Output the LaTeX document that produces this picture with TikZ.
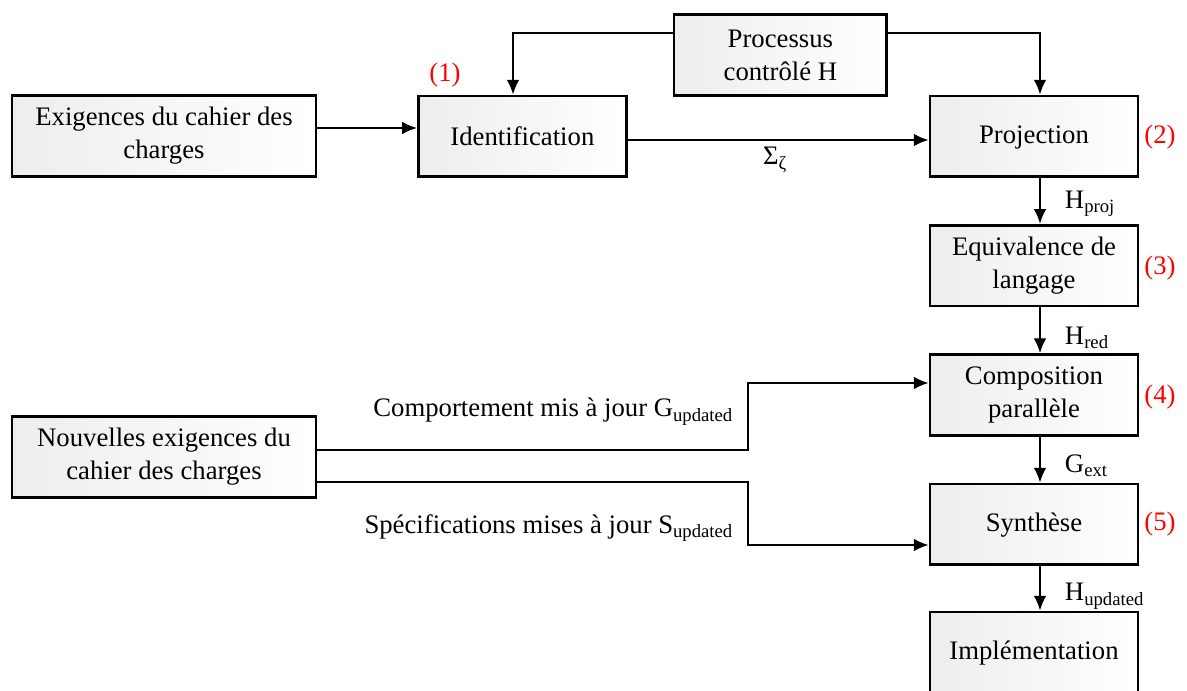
\documentclass[tikz,border=0pt]{standalone}
\usepackage{fontspec}
\setmainfont{Liberation Serif}
\usepackage{tikz}
\usetikzlibrary{arrows.meta,shadows}

\begin{document}
\begin{tikzpicture}[
    bloc/.style={draw, line width=2pt, minimum width=5.2cm, minimum height=2.02cm,
      align=center, inner sep=2pt, left color=black!7, right color=white,
      drop shadow={opacity=0.15, shadow xshift=0.7pt, shadow yshift=-0.7pt}},
    large/.style={bloc, minimum width=7.6cm},
    fleche/.style={line width=1.4pt, -{Latex[length=10.5pt,width=9pt]}},
    etape/.style={text=red},
    every node/.style={font=\fontsize{19}{23.5}\selectfont}
  ]
    \useasboundingbox (0,0) rectangle (29.675,-17.275);
    % Blocs
    \node[large] (exig) at (4.1,-3.4) {Exigences du cahier des\\charges};
    \node[bloc] (ident) at (13.06,-3.41) {Identification};
    \node[bloc, minimum width=5.32cm] (proc) at (19.51,-1.375) {Processus\\contrôlé H};
    \node[bloc] (proj) at (25.85,-3.41) {\strut Projection};
    \node[bloc] (equiv) at (25.85,-6.64) {Equivalence de\\langage};
    \node[bloc] (comp) at (25.85,-9.875) {Composition\\parallèle};
    \node[bloc] (synth) at (25.85,-13.11) {\strut Synthèse};
    \node[bloc] (impl) at (25.85,-16.31) {\strut Implémentation};
    \node[large] (nouv) at (4.1,-11.425) {Nouvelles exigences du\\cahier des charges};
    % Numeros des etapes
    \node[etape] (e1) at (11.125,-1.875) {(1)};
    \node[etape] (e2) at (29.0,-3.425) {(2)};
    \node[etape] (e3) at (29.0,-6.7) {(3)};
    \node[etape] (e4) at (29.0,-9.925) {(4)};
    \node[etape] (e5) at (29.0,-13.1) {(5)};
    % Points de passage
    \coordinate (pg) at (12.825,-0.825);
    \coordinate (pd) at (26.0,-0.825);
    \coordinate (cg) at (18.7,-11.25);
    \coordinate (ch) at (18.7,-9.575);
    \coordinate (sg) at (18.7,-12.05);
    \coordinate (sb) at (18.7,-13.625);
    % Liaisons
    \draw[fleche] (proc.west |- pg) -- (pg) -- (pg |- ident.north);
    \draw[fleche] (proc.east |- pd) -- (pd) -- (pd |- proj.north);
    \draw[fleche] (exig.east |- 0,-3.2) -- (ident.west |- 0,-3.2);
    \draw[fleche] (ident.east |- 0,-3.5) -- (proj.west |- 0,-3.5);
    \draw[fleche] (proj.south -| pd) -- (equiv.north -| pd);
    \draw[fleche] (equiv.south -| pd) -- (comp.north -| pd);
    \draw[fleche] (comp.south -| pd) -- (synth.north -| pd);
    \draw[fleche] (synth.south -| pd) -- (impl.north -| pd);
    \draw[fleche] (nouv.east |- cg) -- (cg) -- (ch) -- (comp.west |- ch);
    \draw[fleche] (nouv.east |- sg) -- (sg) -- (sb) -- (synth.west |- sb);
    % Etiquettes
    \node (sigma) at (19.375,-4.0) {Σ\textsubscript{ζ}};
    \node[anchor=east] (gup) at (18.45,-10.3) {Comportement mis à jour G\textsubscript{updated}};
    \node[anchor=east] (sup) at (18.45,-13.2) {Spécifications mises à jour S\textsubscript{updated}};
    \node[anchor=west] (hproj) at (26.5,-5.1) {H\textsubscript{proj}};
    \node[anchor=west] (hred) at (26.5,-8.45) {H\textsubscript{red}};
    \node[anchor=west] (gext) at (26.5,-11.65) {G\textsubscript{ext}};
    \node[anchor=west] (hup) at (26.5,-14.9) {H\textsubscript{updated}};
  \end{tikzpicture}
\end{document}
